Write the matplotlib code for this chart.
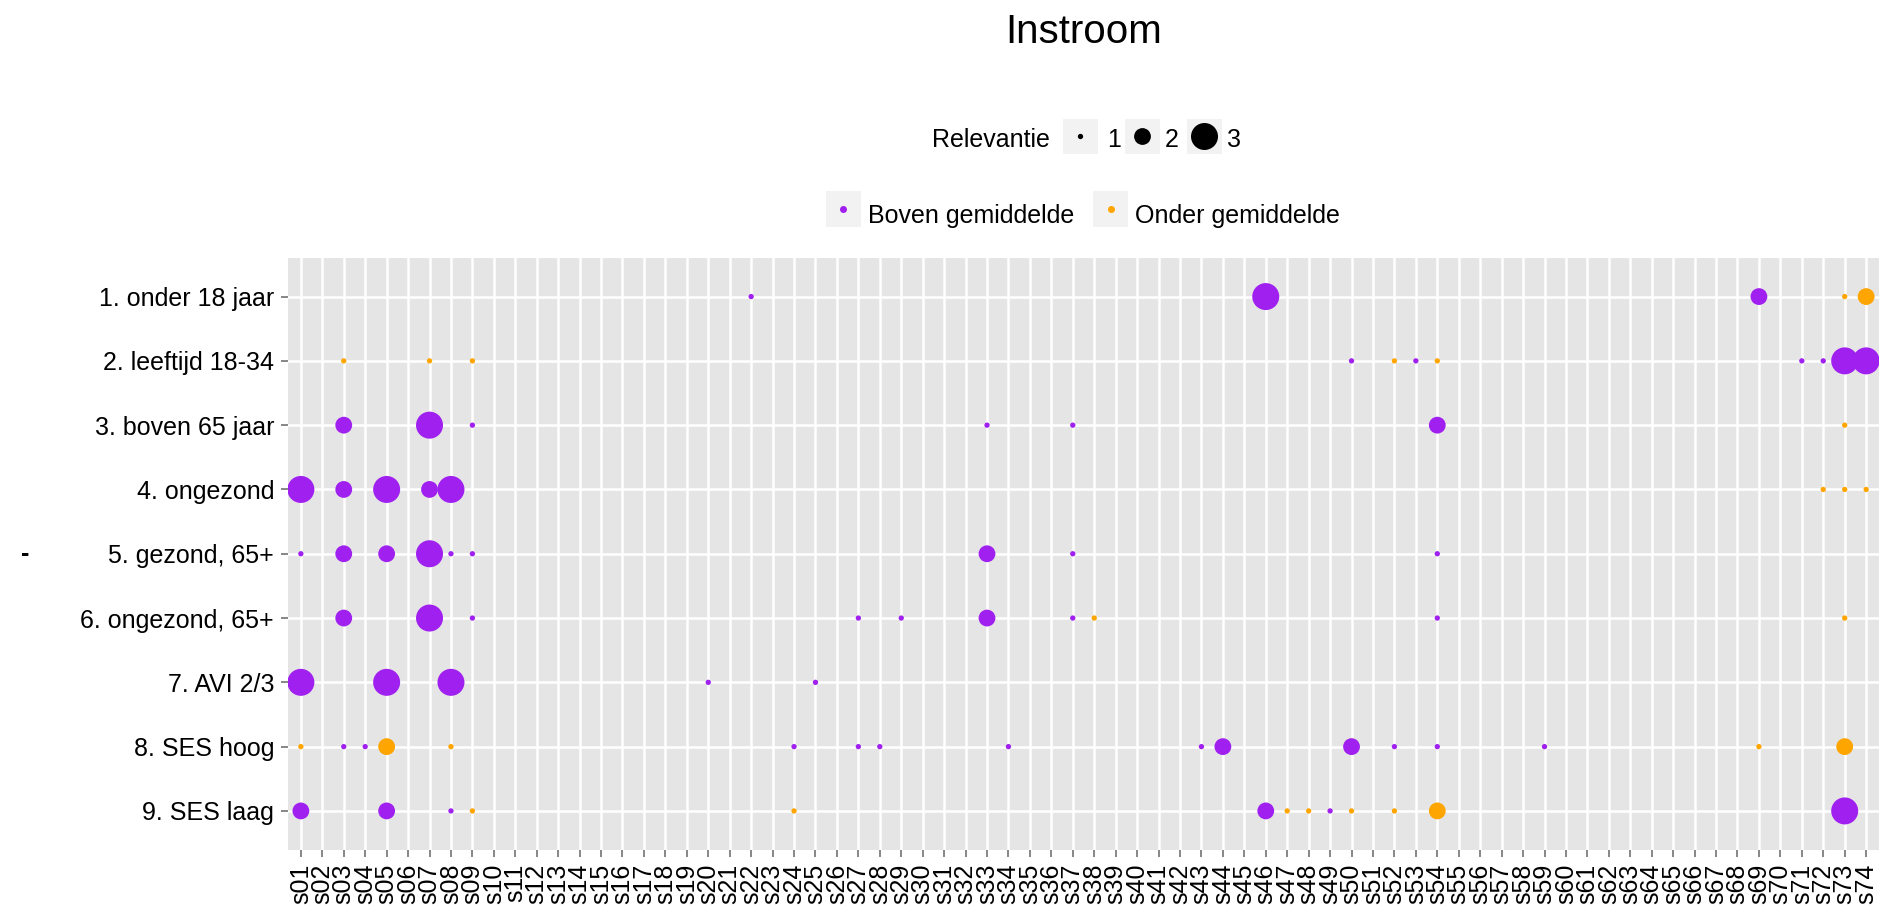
import matplotlib
matplotlib.use("Agg")
import matplotlib.pyplot as plt
from matplotlib.patches import Rectangle

plt.rcParams['font.family'] = ['Liberation Sans', 'DejaVu Sans']

# ---------------- data ----------------
sectors = [f"s{i:02d}" for i in range(1, 75)]
groups = ["1. onder 18 jaar", "2. leeftijd 18-34", "3. boven 65 jaar", "4. ongezond",
          "5. gezond, 65+", "6. ongezond, 65+", "7. AVI 2/3", "8. SES hoog", "9. SES laag"]

B, O = "Boven gemiddelde", "Onder gemiddelde"

# one entry per point: group, sector, relevance, direction
pt_group = (
    [1] * 5 + [2] * 11 + [3] * 7 + [4] * 8 + [5] * 9 + [6] * 10 + [7] * 5 + [8] * 17 + [9] * 13
)
pt_sector = [
    22, 46, 69, 73, 74,
    3, 7, 9, 50, 52, 53, 54, 71, 72, 73, 74,
    3, 7, 9, 33, 37, 54, 73,
    1, 3, 5, 7, 8, 72, 73, 74,
    1, 3, 5, 7, 8, 9, 33, 37, 54,
    3, 7, 9, 27, 29, 33, 37, 38, 54, 73,
    1, 5, 8, 20, 25,
    1, 3, 4, 5, 8, 24, 27, 28, 34, 43, 44, 50, 52, 54, 59, 69, 73,
    1, 5, 8, 9, 24, 46, 47, 48, 49, 50, 52, 54, 73,
]
pt_relevance = [
    1, 3, 2, 1, 2,
    1, 1, 1, 1, 1, 1, 1, 1, 1, 3, 3,
    2, 3, 1, 1, 1, 2, 1,
    3, 2, 3, 2, 3, 1, 1, 1,
    1, 2, 2, 3, 1, 1, 2, 1, 1,
    2, 3, 1, 1, 1, 2, 1, 1, 1, 1,
    3, 3, 3, 1, 1,
    1, 1, 1, 2, 1, 1, 1, 1, 1, 1, 2, 2, 1, 1, 1, 1, 2,
    2, 2, 1, 1, 1, 2, 1, 1, 1, 1, 1, 2, 3,
]
pt_direction = [
    B, B, B, O, O,
    O, O, O, B, O, B, O, B, B, B, B,
    B, B, B, B, B, B, O,
    B, B, B, B, B, O, O, O,
    B, B, B, B, B, B, B, B, B,
    B, B, B, B, B, B, B, O, B, O,
    B, B, B, B, B,
    O, B, B, O, O, B, B, B, B, B, B, B, B, B, B, O, O,
    B, B, B, O, O, B, O, O, B, O, O, O, B,
]

relevance_levels = [1, 2, 3]
direction_levels = [B, O]

# ---------------- styling ----------------
colors = {B: "#A020F0", O: "#FFA500"}
size_px = {1: 5.3, 2: 16.8, 3: 27.0}          # marker diameters in pixels
W, H = 1901, 910
DPI = 100


def s_of(px):
    return (px * 72.0 / DPI) ** 2


fig = plt.figure(figsize=(W / DPI, H / DPI), dpi=DPI)
fig.patch.set_facecolor("white")

L, R, T, Bt = 288, 1879, 258, 849.5
ax = fig.add_axes([L / W, 1 - Bt / H, (R - L) / W, (Bt - T) / H])
ax.set_facecolor("#E5E5E5")
for sp in ax.spines.values():
    sp.set_visible(False)

xs = [sectors.index(f"s{k:02d}") for k in pt_sector]
ys = [g - 1 for g in pt_group]
ax.scatter(xs, ys,
           s=[s_of(size_px[r]) for r in pt_relevance],
           c=[colors[d] for d in pt_direction],
           linewidths=0, zorder=3)

ax.set_xlim(-0.6, len(sectors) - 1 + 0.6)
ax.set_ylim(len(groups) - 1 + 0.6, -0.6)
ax.set_xticks(range(len(sectors)))
ax.set_xticklabels(sectors, rotation=90, fontsize=18, color="black")
ax.set_yticks(range(len(groups)))
ax.set_yticklabels(groups, fontsize=18, color="black")
ax.tick_params(axis="both", length=5, width=1.1, color="#666666", pad=5)
ax.grid(True, color="white", linewidth=1.8)
ax.set_axisbelow(True)

ax.set_ylabel("-", rotation=0, fontsize=18, fontweight="bold", ha="center", va="center")
ax.yaxis.set_label_coords((25 - L) / (R - L), 0.5)

# ---------------- overlay for title & legends (pixel coords) ----------------
ov = fig.add_axes([0, 0, 1, 1], zorder=5)
ov.set_xlim(0, W)
ov.set_ylim(H, 0)
ov.axis("off")
ov.patch.set_alpha(0)

ov.text(1084, 43, "Instroom", fontsize=29, ha="center", va="baseline")

# size legend
ov.text(931.7, 146.7, "Relevantie", fontsize=18, ha="left", va="baseline")
key_cx = [1080.3, 1142, 1204]
lab_x = [1107, 1165, 1227]
for lvl, cx, lx in zip(relevance_levels, key_cx, lab_x):
    ov.add_patch(Rectangle((cx - 17.5, 118.5), 35, 35, facecolor="#F2F2F2", edgecolor="none"))
    ov.scatter([cx], [136], s=s_of(size_px[lvl]), c="black", linewidths=0, zorder=6)
    ov.text(lx, 146.7, str(lvl), fontsize=18, ha="left", va="baseline")

# colour legend
col_cx = [843, 1110.5]
col_lx = [868, 1135]
for d, cx, lx in zip(direction_levels, col_cx, col_lx):
    ov.add_patch(Rectangle((cx - 17.5, 190.5), 35, 36, facecolor="#F2F2F2", edgecolor="none"))
    ov.scatter([cx], [208.5], s=s_of(7), c=colors[d], linewidths=0, zorder=6)
    ov.text(lx, 222.7, d, fontsize=18, ha="left", va="baseline")

fig.savefig("out.png", dpi=DPI, facecolor="white")
